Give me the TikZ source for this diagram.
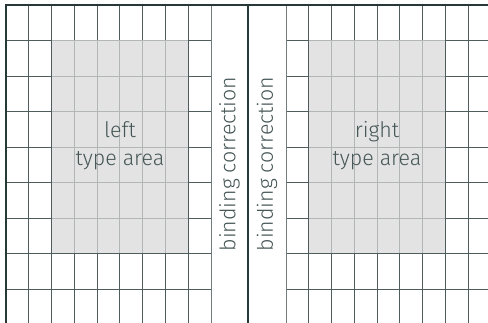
\documentclass[tikz,border=0pt]{standalone}
\usepackage{fontspec}
\setmainfont{Fira Sans}[UprightFont=* Light]
\definecolor{edge}{HTML}{263838}
\definecolor{gridc}{HTML}{4E5C5C}
\definecolor{areac}{HTML}{D9D9D9}
\definecolor{txt}{HTML}{465656}
\begin{document}
\begin{tikzpicture}[x=1pt,y=1pt,
  gridline/.style={draw=gridc,line width=0.9pt},
  pageedge/.style={draw=edge,line width=1.8pt},
  striplines/.style={draw=gridc!80,line width=0.9pt},
  typearea/.style={fill=areac,fill opacity=0.72},
  lbl/.style={text=txt,font=\fontsize{21.4}{28}\selectfont,align=center,inner sep=0pt},
  blbl/.style={text=txt,font=\fontsize{21.4}{24}\selectfont,rotate=90,inner sep=0pt}]
\useasboundingbox (0,0) rectangle (488,323);
\fill[white] (0,0) rectangle (488,323);
\def\cw{22.78}
\def\rh{35.5}
% left grid
\foreach \i in {1,...,8} {
  \draw[gridline] ({6+\i*\cw},{323-5}) -- ({6+\i*\cw},{323-5-9*\rh});
}
\foreach \j in {1,...,8} {
  \draw[gridline] (6,{323-5-\j*\rh}) -- (211,{323-5-\j*\rh});
}
% right grid
\foreach \i in {1,...,8} {
  \draw[gridline] ({286+\i*\cw},{323-5}) -- ({286+\i*\cw},{323-5-9*\rh});
}
\foreach \j in {1,...,8} {
  \draw[gridline] (286,{323-5-\j*\rh}) -- (492,{323-5-\j*\rh});
}
% strip borders
\draw[striplines] (211,318) -- (211,{323-5-9*\rh});
\draw[striplines] (286,318) -- (286,{323-5-9*\rh});
% type areas
\fill[typearea] ({6+2*\cw},{323-5-\rh}) rectangle ({6+8*\cw},{323-5-7*\rh});
\fill[typearea] ({286+1*\cw},{323-5-\rh}) rectangle ({286+7*\cw},{323-5-7*\rh});
% page edges
\draw[pageedge] (6,{323-5-9*\rh}) rectangle (248,318);
\draw[pageedge] (248,{323-5-9*\rh}) rectangle (492,318);
% labels
\node[lbl] (lt) at (120,{323-146}) {left\\type area};
\node[lbl] (rt) at (377,{323-146}) {right\\type area};
\node[blbl] (bl) at (229.5,{323-164}) {binding correction};
\node[blbl] (br) at (267,{323-164}) {binding correction};
\end{tikzpicture}
\end{document}
